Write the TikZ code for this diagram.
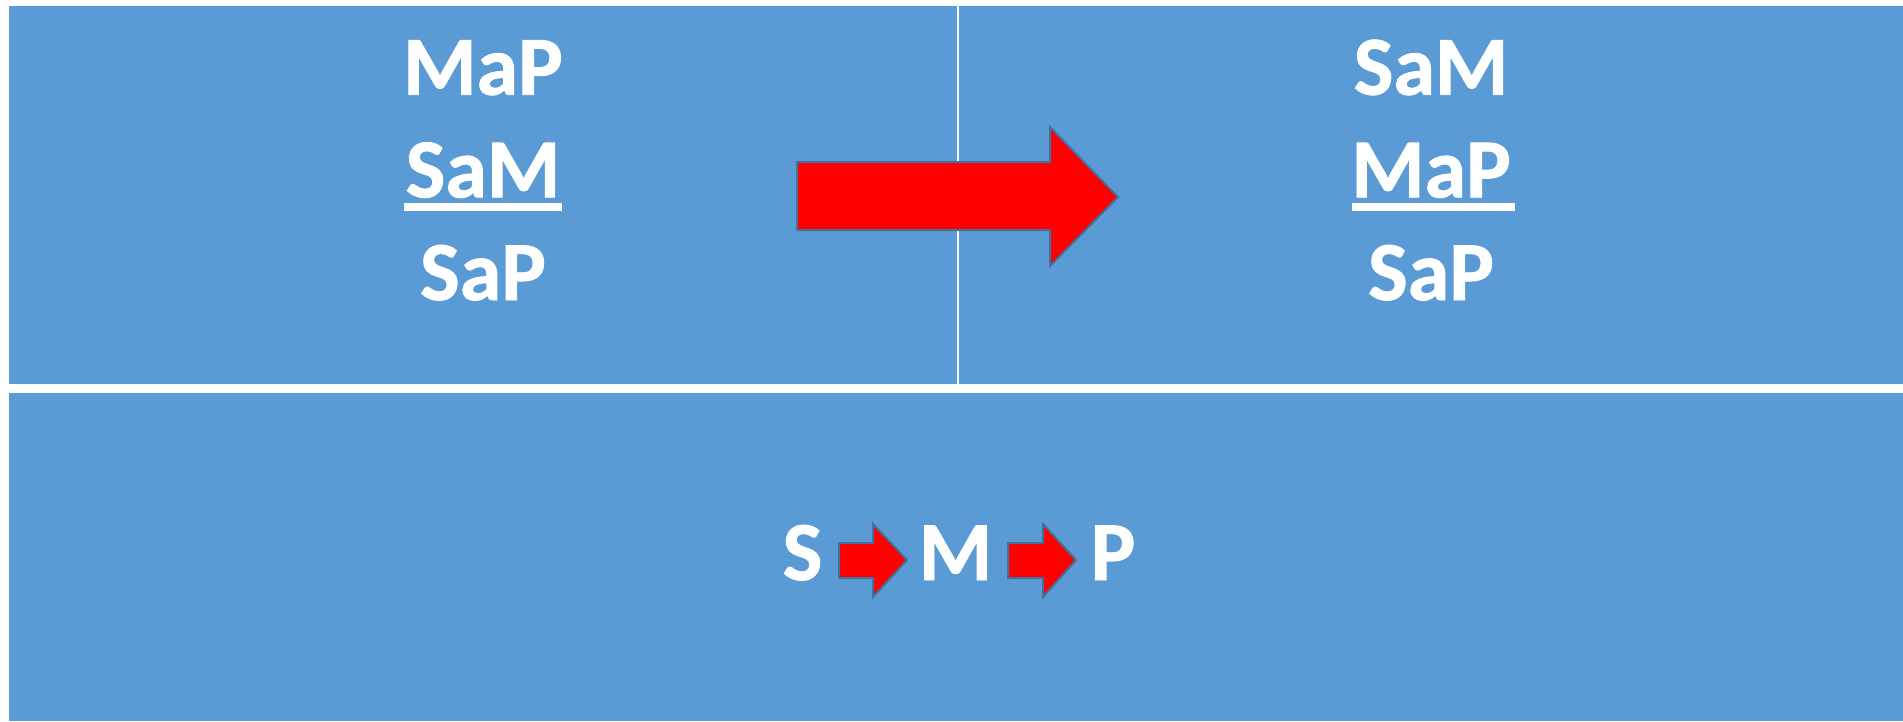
\documentclass[tikz,border=0pt]{standalone}
\usepackage{fontspec}
\setmainfont{Carlito}[BoldFont={Carlito Bold}, BoldFeatures={FakeBold=1}]
\usetikzlibrary{positioning}

\definecolor{panelblue}{HTML}{5B9BD5}
\definecolor{arrowedge}{HTML}{41719C}

\begin{document}
\begin{tikzpicture}[x=1pt, y=-1pt,
  panel/.style={fill=panelblue, draw=none},
  premise/.style={text=white, font=\bfseries\fontsize{84}{100}\selectfont, anchor=base, inner sep=0pt},
  rule/.style={fill=white, draw=none},
  blockarrow/.style={fill=red, draw=arrowedge, line width=2pt, line join=miter}]
				% Page and panels
				\useasboundingbox[fill=white] (0,0) rectangle (1903,721);
				\fill[panel] (9,6) rectangle (957,384);
				\fill[panel] (959,6) rectangle (1903,384);
				\fill[panel] (9,393) rectangle (1903,721);

				% Left syllogism
				\node[premise] (lmajor) at (483,94.7) {MaP};
				\node[premise] (lminor) at (483,197.3) {SaM};
				\node[premise] (lconcl) at (483,300) {SaP};
				\fill[rule] (404,203) rectangle (562,211);

				% Right syllogism (premises swapped)
				\node[premise] (rminor) at (1431,94.7) {SaM};
				\node[premise] (rmajor) at (1431,197.3) {MaP};
				\node[premise] (rconcl) at (1431,300) {SaP};
				\fill[rule] (1352,203) rectangle (1515,211);

				% Big arrow between the two forms
				\draw[blockarrow] (797,162) -- (1050,162) -- (1050,127) -- (1118,197)
					-- (1050,266) -- (1050,230) -- (797,230) -- cycle;

				% Chain of terms
				\node[premise] (termS) at (802.5,580) {S};
				\node[premise] (termM) at (955.5,580) {M};
				\node[premise] (termP) at (1113,580) {P};

				% Small arrows in the chain
				\draw[blockarrow] (839,543) -- (873,543) -- (873,524) -- (907,560)
					-- (873,597) -- (873,578) -- (839,578) -- cycle;
				\draw[blockarrow] (1008,543) -- (1043,543) -- (1043,524) -- (1076,560)
					-- (1043,597) -- (1043,578) -- (1008,578) -- cycle;
			\end{tikzpicture}
\end{document}
